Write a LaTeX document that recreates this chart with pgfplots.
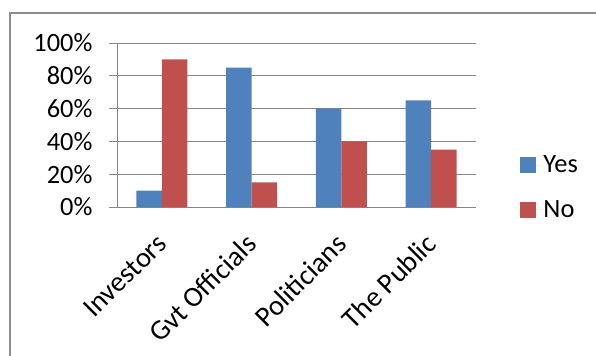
\documentclass[border=0pt]{standalone}
\usepackage{pgfplots}
\pgfplotsset{compat=1.18}
\usepackage{fontspec}
\setmainfont{Carlito}
\definecolor{yescol}{RGB}{79,129,189}
\definecolor{nocol}{RGB}{192,80,77}
\definecolor{gridgray}{RGB}{134,134,134}
\definecolor{framegray}{RGB}{140,140,140}
\begin{document}
\begin{tikzpicture}[x=1bp,y=1bp]
\useasboundingbox (0,0) rectangle (596,355);
\clip (0,0) rectangle (596,355);
% chart area frame
\draw[framegray, line width=2bp] (10,-5) -- (10,342) -- (600,342);
\begin{axis}[
  at={(117bp,148bp)}, anchor=south west,
  scale only axis, width=359bp, height=164bp,
  font=\fontsize{26.5}{30}\selectfont,
  /pgf/number format/assume math mode=true,
  ybar=0pt, bar width=25.5bp,
  xmin=-0.5, xmax=3.5, ymin=0, ymax=100,
  axis x line*=bottom, axis y line*=left,
  axis line style={gridgray, line width=0.8bp},
  tick align=outside, major tick length=8bp,
  tick style={gridgray, line width=0.8bp},
  ytick={0,20,...,100},
  yticklabel={\pgfmathprintnumber{\tick}\%},
  yticklabel style={xshift=-13bp},
  ymajorgrids, grid style={gridgray, line width=0.8bp},
  xtick={0,1,2,3},
  xticklabels={Investors,Gvt Officials,Politicians,The Public},
  x tick style={draw=none},
  xticklabel style={rotate=45, anchor=east, inner sep=0bp,
    font=\fontsize{28.5}{32}\selectfont, xshift=-17bp, yshift=-17bp},
  extra x ticks={-0.5,0.5,1.5,2.5,3.5},
  extra x tick labels={},
  extra x tick style={tick style={draw=gridgray, line width=0.8bp}, grid=none},
  legend style={at={(1.115,0.12)}, anchor=west, draw=none, fill=none,
    font=\fontsize{26.5}{30}\selectfont, row sep=22bp},
  legend cell align=left,
]
\addplot[fill=yescol, draw=none,
  legend image code/.code={\fill[yescol] (0bp,-8bp) rectangle (16bp,8bp);
    \path (0bp,0bp) -- (21bp,0bp);}]
  coordinates {(0,10) (1,85) (2,60) (3,65)};
\addplot[fill=nocol, draw=none,
  legend image code/.code={\fill[nocol] (0bp,-8bp) rectangle (16bp,8bp);
    \path (0bp,0bp) -- (21bp,0bp);}]
  coordinates {(0,90) (1,15) (2,40) (3,35)};
\legend{Yes,No}
\end{axis}
\end{tikzpicture}
\end{document}
